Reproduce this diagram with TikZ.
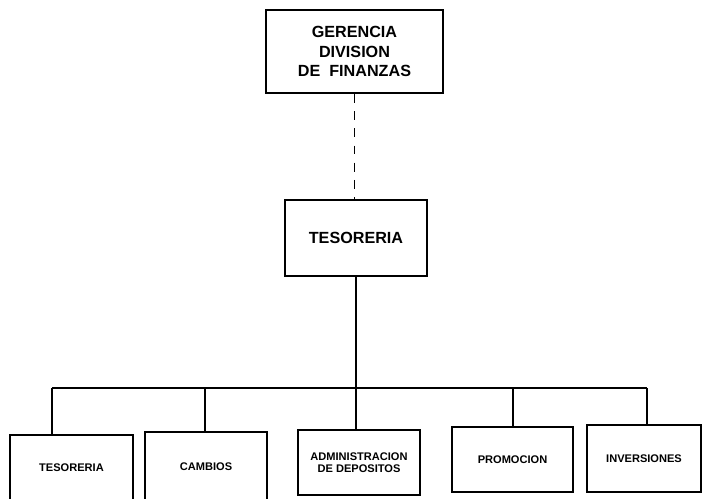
\documentclass[tikz,border=0pt]{standalone}
\usepackage{fontspec}
\setmainfont{Liberation Sans}
\usetikzlibrary{positioning}
\tikzset{
  cargo/.style={
    rectangle, draw=black, line width=1pt, fill=white,
    font=\fontsize{9.2}{11.3}\selectfont\bfseries, align=center,
    inner sep=2pt
  },
  unidad/.style={
    rectangle, draw=black, line width=1pt, fill=white,
    font=\fontsize{6.3}{6.6}\selectfont\bfseries, align=center,
    inner sep=1pt
  },
  enlace/.style={line width=1pt, color=black},
  punteado/.style={line width=1pt, color=black, dash pattern=on 5pt off 4.8pt},
}
\begin{document}
\begin{tikzpicture}[x=0.02cm, y=-0.02cm]
    \useasboundingbox (0,0) rectangle (702,499);
    \clip (0,0) rectangle (702,499);

    % Gerencia
    \node[cargo, minimum width=3.54cm, minimum height=1.66cm] (gerencia) at (354.5,51.5)
      {GERENCIA\\DIVISION\\DE\ \ FINANZAS};

    % Tesoreria (jefatura)
    \node[cargo, minimum width=2.84cm, minimum height=1.52cm] (tesoreria) at (356,238) {TESORERIA};
    \draw[punteado] (gerencia.south) -- (gerencia.south |- tesoreria.north);

    % Unidades
    \node[unidad, minimum width=2.46cm, minimum height=1.32cm] (tesunidad) at (71.5,468) {TESORERIA};
    \node[unidad, minimum width=2.44cm, minimum height=1.38cm] (cambios) at (206,466.5) {CAMBIOS};
    \node[unidad, minimum width=2.44cm, minimum height=1.30cm] (depositos) at (359,462.5) {ADMINISTRACION\\DE DEPOSITOS};
    \node[unidad, minimum width=2.42cm, minimum height=1.30cm] (promocion) at (512.5,459.5) {PROMOCION};
    \node[unidad, minimum width=2.28cm, minimum height=1.34cm] (inversiones) at (644,458.5) {INVERSIONES};

    % Barra de distribucion
    \coordinate (bizq) at (52,388);
    \coordinate (bcam) at (205,388);
    \coordinate (bcen) at (tesoreria.south |- bizq);
    \coordinate (bpro) at (513,388);
    \coordinate (bder) at (647,388);
    \draw[enlace] (bizq) -- (bder);
    \draw[enlace] (tesoreria.south) -- (tesoreria.south |- depositos.north);
    \draw[enlace] (bizq) -- (bizq |- tesunidad.north);
    \draw[enlace] (bcam) -- (bcam |- cambios.north);
    \draw[enlace] (bpro) -- (bpro |- promocion.north);
    \draw[enlace] (bder) -- (bder |- inversiones.north);
\end{tikzpicture}
\end{document}
